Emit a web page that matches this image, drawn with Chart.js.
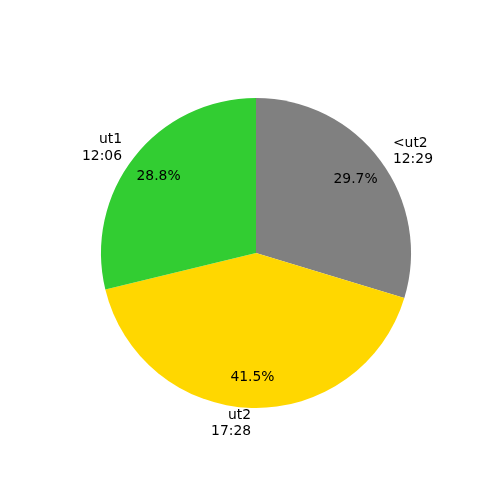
<!DOCTYPE html>
<html>
<head>
<meta charset="utf-8">
<script src="https://cdn.jsdelivr.net/npm/chart.js@4/dist/chart.umd.min.js"></script>
<style>
html,body{margin:0;padding:0;background:#fff;}
#wrap{width:500px;height:500px;}
</style>
</head>
<body>
<div id="wrap"><canvas id="c" width="500" height="500"></canvas></div>
<script>
const categories = ["<ut2", "ut2", "ut1"];
const timeLabels = ["12:29", "17:28", "12:06"];
const minutes = [749, 1048, 726];
const colors = ["#808080", "#FFD700", "#32CD32"];

const FONT = '13.9px "DejaVu Sans"';
const LINE_H = 16.7;

const labelPlugin = {
  id: 'pieLabels',
  afterDatasetsDraw(chart) {
    const ctx = chart.ctx;
    const meta = chart.getDatasetMeta(0);
    const data = chart.data.datasets[0].data;
    const total = data.reduce((a, b) => a + b, 0);
    ctx.save();
    ctx.font = FONT;
    ctx.fillStyle = '#000';
    meta.data.forEach((arc, i) => {
      const p = arc.getProps(['x', 'y', 'startAngle', 'endAngle', 'outerRadius'], true);
      const mid = (p.startAngle + p.endAngle) / 2;
      const cx = Math.cos(mid), sy = Math.sin(mid);
      const pr = p.outerRadius * 0.8;
      ctx.textAlign = 'center';
      ctx.textBaseline = 'middle';
      ctx.fillText((data[i] / total * 100).toFixed(1) + '%', p.x + cx * pr, p.y + sy * pr);
      const lr = p.outerRadius * 1.1;
      const lx = p.x + cx * lr, ly = p.y + sy * lr;
      ctx.textAlign = cx > 0 ? 'left' : 'right';
      const lines = [categories[i], timeLabels[i]];
      const startY = ly - (lines.length - 1) * LINE_H / 2;
      lines.forEach((t, k) => ctx.fillText(t, lx, startY + k * LINE_H));
    });
    ctx.restore();
  }
};

new Chart(document.getElementById('c'), {
  type: 'pie',
  data: {
    labels: categories,
    datasets: [{
      data: minutes,
      backgroundColor: colors,
      borderWidth: 0
    }]
  },
  options: {
    responsive: false,
    animation: false,
    rotation: 0,
    layout: { padding: { left: 101, right: 89, top: 98, bottom: 92 } },
    plugins: { legend: { display: false }, tooltip: { enabled: false } }
  },
  plugins: [labelPlugin]
});
</script>
</body>
</html>
